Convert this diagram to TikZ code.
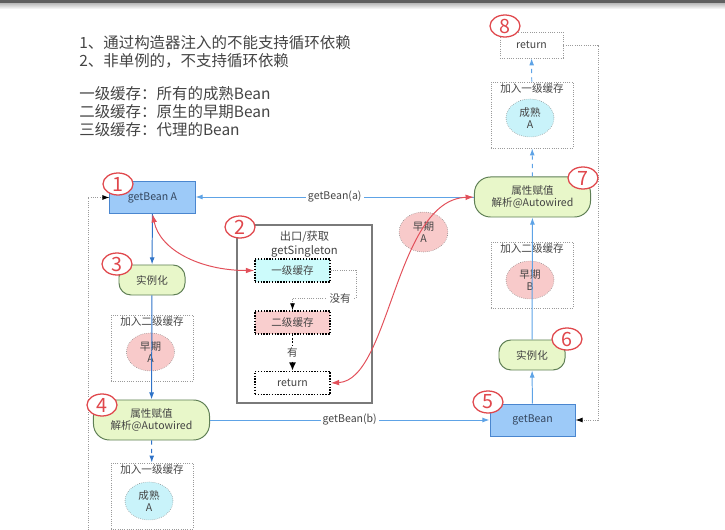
\documentclass[tikz,border=0pt]{standalone}
\usepackage{fontspec}
\setmainfont{Noto Sans CJK SC}
\usepackage{tikz}
\usetikzlibrary{arrows.meta, shapes.geometric}
\definecolor{inkgray}{HTML}{444444}
\definecolor{beanfill}{HTML}{9DCAF8}
\definecolor{beandraw}{HTML}{4A86CF}
\definecolor{beantext}{HTML}{34465E}
\definecolor{actfill}{HTML}{E8F7C9}
\definecolor{actdraw}{HTML}{5F7F55}
\definecolor{pinkfill}{HTML}{F8CACA}
\definecolor{cyanfill}{HTML}{C9F3FA}
\definecolor{slotcyan}{HTML}{CCFBFB}
\definecolor{slotpink}{HTML}{F9CECE}
\definecolor{badgered}{HTML}{E0474C}
\definecolor{flowblue}{HTML}{2F73C8}
\definecolor{liteblue}{HTML}{5EA3E6}
\definecolor{dotgray}{HTML}{9A9A9A}
\definecolor{framegray}{HTML}{7A7A7A}
\definecolor{curvered}{HTML}{E2505A}

\begin{document}
\begin{tikzpicture}[x=0.025cm, y=-0.025cm,
    % 1. texto base de todos los nodos
    base/.style={font=\fontsize{7.5}{9}\selectfont, text=inkgray, align=center, inner sep=1pt},
    % 2. cajas: getBean, instanciar, inyectar
    bean/.style={base, draw=beandraw, fill=beanfill, line width=0.7pt, text=beantext,
        minimum width=2.125cm, minimum height=0.8cm},
    act/.style={base, draw=actdraw, fill=actfill, line width=0.7pt, rounded corners=0.3cm,
        minimum width=1.65cm, minimum height=0.75cm},
    inject/.style={act, rounded corners=0.4cm, minimum width=2.9cm, minimum height=1cm},
    % 3. caches y beans
    cache/.style={draw=dotgray, densely dotted, line width=0.6pt, minimum width=2.05cm, minimum height=1.65cm},
    early/.style={base, ellipse, draw=gray, densely dotted, fill=pinkfill, minimum width=1.2cm, minimum height=0.95cm},
    ripe/.style={early, fill=cyanfill},
    slot/.style={base, draw=black, dash pattern=on 1pt off 1pt, line width=1pt,
        minimum width=1.875cm, minimum height=0.575cm},
    % 4. numeros rojos
    badge/.style={ellipse, draw=badgered, fill=white, line width=0.9pt, text=badgered, inner sep=0pt,
        minimum width=0.75cm, minimum height=0.55cm, font=\fontsize{14}{14}\selectfont},
    % 5. flechas
    flow/.style={-{Latex[length=5pt, width=3.5pt]}, draw=flowblue, line width=0.7pt},
    lite/.style={-{Latex[length=5pt, width=3.5pt]}, draw=liteblue, line width=0.7pt},
    back/.style={-{Latex[length=5pt, width=3.5pt, color=black]}, draw=dotgray, densely dotted, line width=0.6pt},
    hit/.style={-{Latex[length=6pt, width=5pt]}, draw=black, dash pattern=on 1.2pt off 1.2pt, line width=1.2pt},
    fetch/.style={{Latex[length=6pt, width=4pt]}-{Latex[length=6pt, width=4pt]}, draw=curvered, line width=0.7pt},
    tag/.style={base, fill=white, inner sep=1.5pt}
]
    \useasboundingbox (0,0) rectangle (725,530);
    \fill[gray!75!black] (0,0) rectangle (725,3.5);
    \shade[top color=gray!50, bottom color=white] (0,3.5) rectangle (725,9);

    % --- NOTAS ---
    \node[anchor=north west, align=left, inner sep=0pt, text=inkgray, font=\fontsize{11}{12.6}\selectfont]
        (notes) at (79,35) {1、通过构造器注入的不能支持循环依赖\\2、非单例的，不支持循环依赖\\[11.5pt]一级缓存：所有的成熟Bean\\二级缓存：原生的早期Bean\\三级缓存：代理的Bean};

    % --- COLUMNA A ---
    \node[bean] (getA) at (152.5,197.5) {getBean A};
    \node[act] (inst3) at (152,280) {实例化};
    \node[cache, label={[base, anchor=north]north:加入二级缓存}] (c2a) at (152,348.5) {};
    \node[early] (earlyA) at (150.5,352) {早期\\A};
    \node[inject] (wire4) at (151.5,420) {属性赋值\\解析@Autowired};
    \node[cache, label={[base, anchor=north]north:加入一级缓存}] (c1a) at (152,496) {};
    \node[ripe] (ripeA) at (149,501) {成熟\\A};

    \draw[flow] (getA) -- (inst3);
    \draw[flow] (inst3) -- (wire4);
    \draw[flow, dashed] (wire4) -- (c1a);

    % --- getSingleton ---
    \node[draw=framegray, line width=0.9pt, minimum width=3.375cm, minimum height=4.45cm,
        label={[base, font=\fontsize{8}{10.3}\selectfont, anchor=north, inner sep=4.5pt]north:出口/获取\\getSingleton}]
        (single) at (304.5,314) {};
    \node[slot, fill=slotcyan] (l1) at (292.5,270.5) {一级缓存};
    \node[slot, fill=slotpink] (l2) at (292.5,322.5) {二级缓存};
    \node[slot, fill=white] (ret) at (292.5,383) {return};
    \coordinate (miss) at (356,298);

    \draw[back] (l1.east) -- (l1.east -| miss) -- (miss) -- node[tag, pos=0.25] {没有} (miss -| l2.north) -- (l2.north);
    \draw[hit] (l2) -- node[tag] {有} (ret);

    % --- COLUMNA B ---
    \node[bean] (get5) at (532.5,420) {getBean};
    \node[act] (inst6) at (532,355) {实例化};
    \node[cache, label={[base, anchor=north]north:加入二级缓存}] (c2b) at (532,275) {};
    \node[early] (earlyB) at (530,280) {早期\\B};
    \node[inject] (wire7) at (532.5,197) {属性赋值\\解析@Autowired};
    \node[cache, label={[base, anchor=north]north:加入一级缓存}] (c1b) at (532,115) {};
    \node[ripe] (ripeB) at (530,118) {成熟\\A};
    \node[base, draw=dotgray, densely dotted, line width=0.6pt, minimum width=1.575cm, minimum height=0.65cm]
        (ret8) at (531.5,45) {return};
    \node[early, minimum width=1.22cm, minimum height=1cm] (earlyX) at (423.5,232) {早期\\A};

    \draw[lite] (get5) -- (inst6);
    \draw[lite] (inst6) -- (wire7);
    \draw[lite, dashed] (wire7) -- (c1b);
    \draw[lite, dashed] (c1b) -- (ret8);

    % --- CRUCES ---
    \draw[lite] (wire7.west) -- (wire7.west -| getA.east) node[tag, midway] {getBean(a)};
    \draw[lite] (wire4.east) -- (wire4.east -| get5.west) node[tag, midway] {getBean(b)};
    \draw[fetch] (getA.south) .. controls (160,250) and (200,270.5) .. (l1.west);
    \draw[fetch] (ret.east) .. controls (390,380) and (395,200) .. (wire7.west);

    \coordinate (rr) at (598,0);
    \coordinate (ll) at (88,530);
    \draw[back] (ret8.east) -- (ret8.east -| rr) -- (rr |- get5.east) -- (get5.east);
    \draw[back] (ll) -- (ll |- getA.west) -- (getA.west);

    % --- NUMEROS ---
    \node[badge] (b1) at (118,184) {1};
    \node[badge] (b2) at (240,227) {2};
    \node[badge] (b3) at (117,264) {3};
    \node[badge] (b4) at (102,405) {4};
    \node[badge] (b5) at (488,402) {5};
    \node[badge] (b6) at (567,339) {6};
    \node[badge] (b7) at (583,178) {7};
    \node[badge] (b8) at (505,26) {8};
\end{tikzpicture}
\end{document}
